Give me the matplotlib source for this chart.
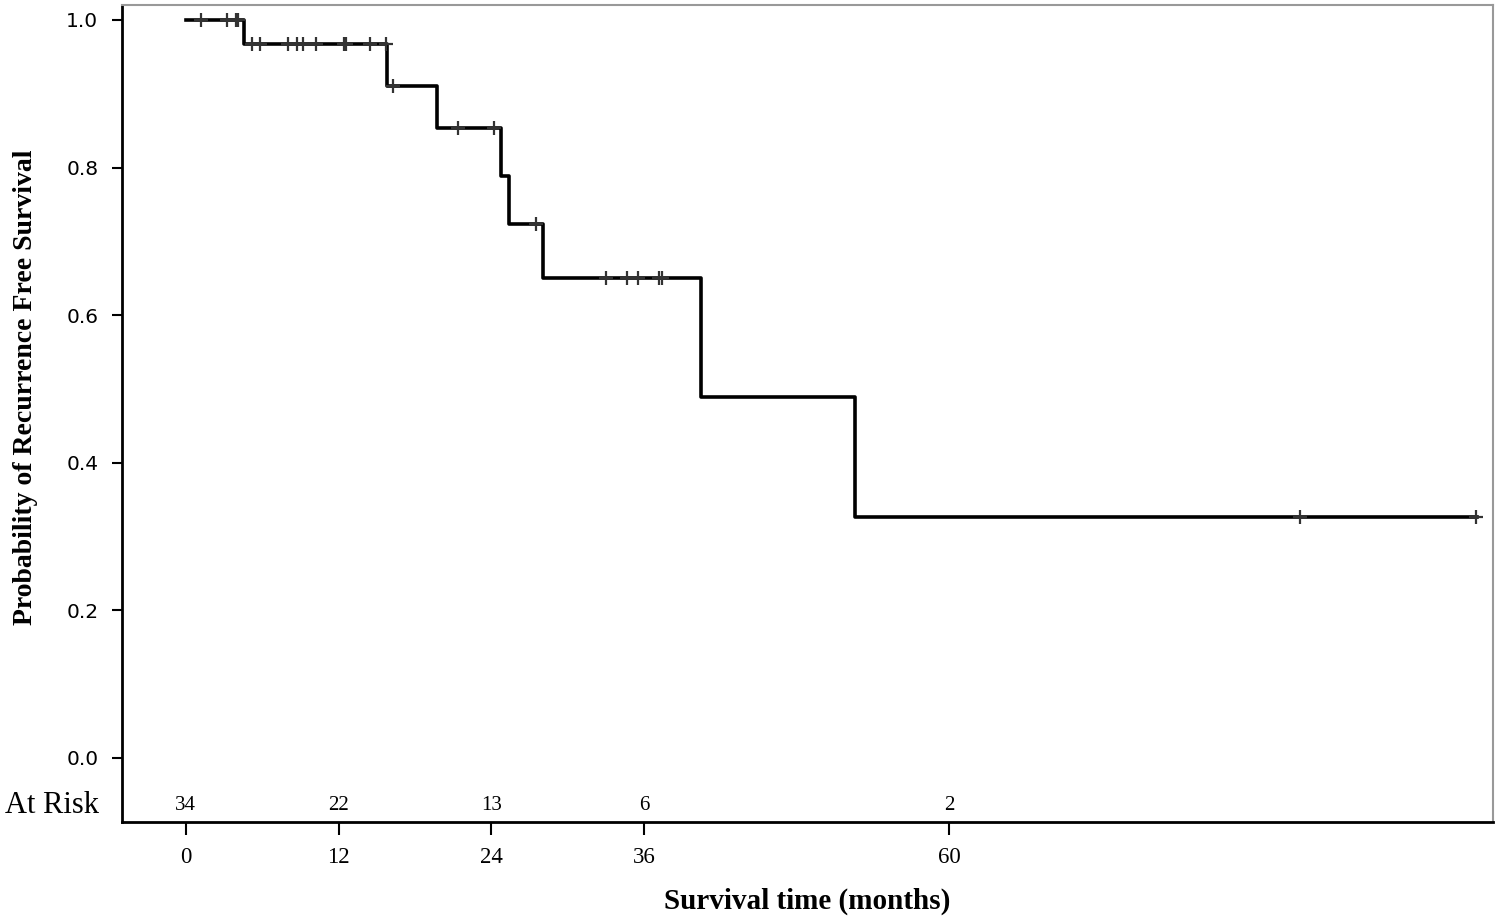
import numpy as np
from matplotlib import pyplot as plt

# Kaplan-Meier estimate
event_times = [4.6, 15.8, 19.7, 24.8, 25.4, 28.1, 40.5, 52.6]
surv_after = [0.967, 0.910, 0.854, 0.789, 0.724, 0.651, 0.489, 0.326]
censor_times = [1.2, 3.2, 3.9, 4.1, 5.2, 5.8, 8.0, 8.7, 9.2, 10.2, 12.4, 12.6,
                14.5, 15.7, 16.3, 21.4, 24.2, 27.5, 33.0, 34.7, 35.5, 37.2, 37.4,
                87.6, 101.4]
last_time = 101.5

risk_times = [0, 12, 24, 36, 60]
at_risk = [34, 22, 13, 6, 2]

times = [0] + event_times + [last_time]
surv = [1.0] + surv_after + [surv_after[-1]]

# survival at each censor time
idx = np.searchsorted(event_times, censor_times, side='right')
censor_surv = np.array([1.0] + surv_after)[idx]

fig = plt.figure(figsize=(15, 9.18), dpi=100)
ax = fig.add_axes([0.0813, 0.1046, 0.914, 0.89])

ax.step(times, surv, where='post', color='black', lw=2.6)
ax.plot(censor_times, censor_surv, linestyle='none', marker='+', markersize=10,
        mew=1.6, color='#333333')

ax.set_xlim(-5.03, 102.75)
ax.set_ylim(-0.0867, 1.0203)

ax.set_yticks([0.0, 0.2, 0.4, 0.6, 0.8, 1.0])
ax.set_yticklabels(['0.0', '0.2', '0.4', '0.6', '0.8', '1.0'],
                   fontsize=14.5, family='DejaVu Sans')
ax.set_xticks(risk_times)
ax.set_xticklabels([str(t) for t in risk_times], fontsize=16.5,
                   family='Liberation Serif')
ax.tick_params(axis='y', length=7, width=1.5, pad=10)
ax.tick_params(axis='x', length=9, width=1.5, pad=9)

for s in ['top', 'right']:
    ax.spines[s].set_color('#999999')
    ax.spines[s].set_linewidth(1.5)
for s in ['left', 'bottom']:
    ax.spines[s].set_color('black')
    ax.spines[s].set_linewidth(2)

ax.set_xlabel('Survival time (months)', fontsize=21, family='Liberation Serif',
              fontweight='bold', labelpad=14)
ax.set_ylabel('Probability of Recurrence Free Survival', fontsize=20,
              family='Liberation Serif', fontweight='bold', labelpad=20, y=0.532)

# at risk row
for t, n in zip(risk_times, at_risk):
    ax.text(t, -0.064, str(n), ha='center', va='center', fontsize=15,
            family='Liberation Serif')
ax.text(-6.8, -0.064, 'At Risk', ha='right', va='center', fontsize=22,
        family='Liberation Serif', clip_on=False)

fig.savefig('out.png', dpi=100)
